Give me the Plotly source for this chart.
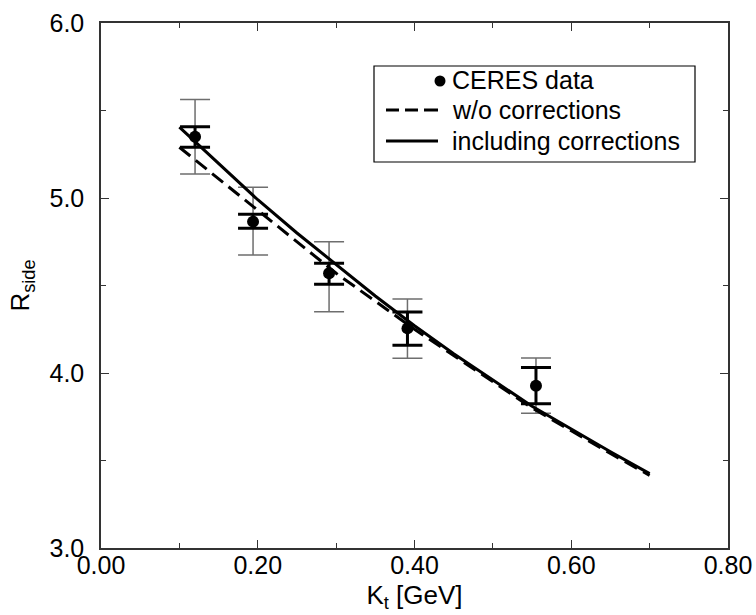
import plotly.graph_objects as go

# ---- data ----
kt_data = [0.120, 0.194, 0.291, 0.391, 0.555]
rside_data = [5.35, 4.865, 4.57, 4.255, 3.927]
sys_hi = [5.563, 5.061, 4.75, 4.423, 4.086]
sys_lo = [5.137, 4.674, 4.35, 4.084, 3.77]
stat_hi = [5.407, 4.907, 4.627, 4.349, 4.032]
stat_lo = [5.29, 4.827, 4.507, 4.158, 3.825]

kt_curve = [0.10, 0.15, 0.20, 0.25, 0.30, 0.35, 0.40, 0.45, 0.50, 0.55, 0.60, 0.65, 0.70]
r_wo = [5.29, 5.11, 4.93, 4.75, 4.57, 4.41, 4.25, 4.10, 3.95, 3.80, 3.67, 3.54, 3.415]
r_incl = [5.405, 5.20, 4.99, 4.80, 4.62, 4.44, 4.27, 4.11, 3.96, 3.81, 3.68, 3.55, 3.425]

legend_labels = ["CERES data", "w/o corrections", "including corrections"]

FONT = "Liberation Sans, Arial, sans-serif"

fig = go.Figure()

# thin (outer) error bars
fig.add_trace(go.Scatter(
    x=kt_data, y=rside_data, mode="markers",
    marker=dict(size=1, color="rgba(0,0,0,0)"),
    error_y=dict(type="data", symmetric=False,
                 array=[h - v for h, v in zip(sys_hi, rside_data)],
                 arrayminus=[v - l for l, v in zip(sys_lo, rside_data)],
                 color="#6e6e6e", thickness=1.5, width=15),
    showlegend=False, hoverinfo="skip"))

# thick (inner) error bars
fig.add_trace(go.Scatter(
    x=kt_data, y=rside_data, mode="markers",
    marker=dict(size=1, color="rgba(0,0,0,0)"),
    error_y=dict(type="data", symmetric=False,
                 array=[h - v for h, v in zip(stat_hi, rside_data)],
                 arrayminus=[v - l for l, v in zip(stat_lo, rside_data)],
                 color="black", thickness=3, width=15),
    showlegend=False, hoverinfo="skip"))

fig.add_trace(go.Scatter(x=kt_curve, y=r_wo, mode="lines",
                         line=dict(color="black", width=3, dash="14px,7px"),
                         showlegend=False))
fig.add_trace(go.Scatter(x=kt_curve, y=r_incl, mode="lines",
                         line=dict(color="black", width=3),
                         showlegend=False))

fig.add_trace(go.Scatter(x=kt_data, y=rside_data, mode="markers",
                         marker=dict(size=12, color="black"),
                         showlegend=False))

# ---- manual legend (pixel -> paper) ----
L, R, T, B = 101, 728, 23, 548
def px(x):
    return (x - L) / (R - L)
def py(y):
    return (B - y) / (B - T)

shapes = []
shapes.append(dict(type="rect", xref="paper", yref="paper",
                   x0=px(374), x1=px(695), y0=py(66), y1=py(162),
                   line=dict(color="black", width=1.2), fillcolor="white", layer="above"))
# marker
shapes.append(dict(type="circle", xref="paper", yref="paper",
                   x0=px(434.5), x1=px(445.5), y0=py(75.5), y1=py(86.5),
                   fillcolor="black", line=dict(color="black", width=0), layer="above"))
# dashed sample
for a, b in [(386, 399), (405, 418), (424, 438)]:
    shapes.append(dict(type="line", xref="paper", yref="paper",
                       x0=px(a), x1=px(b), y0=py(110), y1=py(110),
                       line=dict(color="black", width=3), layer="above"))
# solid sample
shapes.append(dict(type="line", xref="paper", yref="paper",
                   x0=px(386), x1=px(438), y0=py(141), y1=py(141),
                   line=dict(color="black", width=3), layer="above"))

annotations = []
for lab, yy in zip(legend_labels, [80, 110, 141]):
    annotations.append(dict(text=lab, xref="paper", yref="paper",
                            x=px(450), y=py(yy), xanchor="left", yanchor="middle",
                            showarrow=False, font=dict(family=FONT, size=25, color="black")))

fig.update_layout(
    width=756, height=615,
    margin=dict(l=L, r=756 - R, t=T, b=615 - B, autoexpand=False),
    plot_bgcolor="white", paper_bgcolor="white",
    shapes=shapes, annotations=annotations,
    font=dict(family=FONT, color="black"),
)

axis_common = dict(showgrid=False, zeroline=False, showline=True, linecolor="#333",
                   linewidth=1.5, mirror="ticks", ticks="inside", ticklen=8,
                   tickwidth=1.2, tickcolor="#333", automargin=False,
                   tickfont=dict(family=FONT, size=25, color="black"))

fig.update_xaxes(range=[0, 0.8], dtick=0.2, tick0=0, tickformat=".2f",
                 ticklabelstandoff=-6,
                 minor=dict(dtick=0.1, ticks="inside", ticklen=5, tickcolor="#333", tickwidth=1),
                 title=dict(text="K<sub>t</sub> [GeV]", font=dict(family=FONT, size=26), standoff=8),
                 **axis_common)
fig.update_yaxes(range=[3, 6], dtick=1, tick0=3, tickformat=".1f",
                 ticklabelstandoff=10,
                 minor=dict(dtick=0.5, ticks="inside", ticklen=5, tickcolor="#333", tickwidth=1),
                 title=dict(text="R<sub>side</sub>", font=dict(family=FONT, size=26), standoff=12),
                 **axis_common)

fig.write_html("out.html")
